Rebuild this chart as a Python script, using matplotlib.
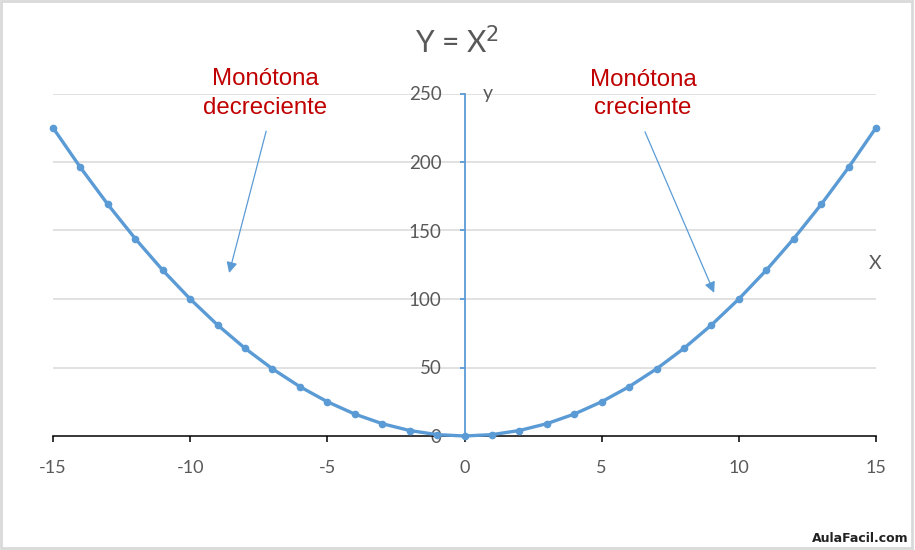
import matplotlib
matplotlib.use("Agg")
import matplotlib.pyplot as plt
from matplotlib.patches import Rectangle

x_vals = [-15, -14, -13, -12, -11, -10, -9, -8, -7, -6, -5, -4, -3, -2, -1, 0,
          1, 2, 3, 4, 5, 6, 7, 8, 9, 10, 11, 12, 13, 14, 15]
y_vals = [225, 196, 169, 144, 121, 100, 81, 64, 49, 36, 25, 16, 9, 4, 1, 0,
          1, 4, 9, 16, 25, 36, 49, 64, 81, 100, 121, 144, 169, 196, 225]
x_ticks = [-15, -10, -5, 0, 5, 10, 15]
y_ticks = [0, 50, 100, 150, 200, 250]

BLUE = "#5b9bd5"
GRAY_TXT = "#595959"
RED = "#c00000"

fig = plt.figure(figsize=(9.15, 5.5), dpi=100)
W, H = 915, 550
ax = fig.add_axes([53 / W, (H - 436) / H, (876 - 53) / W, (436 - 93.5) / H])

ax.set_xlim(-15, 15)
ax.set_ylim(0, 250)

# gridlines
for yt in y_ticks[1:]:
    ax.axhline(yt, color="#d9d9d9", lw=1.1, zorder=0)

# spines
for s in ["top", "right"]:
    ax.spines[s].set_visible(False)
ax.spines["left"].set_position(("data", 0))
ax.spines["left"].set_color(BLUE)
ax.spines["left"].set_linewidth(1.3)
ax.spines["bottom"].set_color("black")
ax.spines["bottom"].set_linewidth(1.1)

ax.set_xticks(x_ticks)
ax.set_xticklabels([str(v) for v in x_ticks])
ax.set_yticks(y_ticks)
ax.set_yticklabels([str(v) for v in y_ticks])
ax.tick_params(axis="x", direction="out", length=4.5, width=1.1, color="black",
               pad=13, labelsize=13, labelcolor=GRAY_TXT)
ax.tick_params(axis="y", direction="out", length=3.5, width=1.3, color=BLUE,
               pad=13, labelsize=13.5, labelcolor=GRAY_TXT)
for lbl in ax.get_xticklabels() + ax.get_yticklabels():
    lbl.set_fontfamily("Lato")

ax.plot(x_vals, y_vals, color=BLUE, lw=2.4, marker="o", markersize=4.5,
        clip_on=False, zorder=3)

# title and axis names
fig.text(457 / W, 1 - 42 / H, r"Y = X$^2$", ha="center", va="center",
         fontsize=21.5, color=GRAY_TXT, family="Lato")
fig.text(488 / W, 1 - 94 / H, "y", ha="center", va="center",
         fontsize=14, color=GRAY_TXT, family="Lato")
fig.text(875 / W, 1 - 263 / H, "X", ha="center", va="center",
         fontsize=14, color=GRAY_TXT, family="Lato")

# annotations
ax.text(-7.27, 250.0, "Monótona\ndecreciente", ha="center", va="center",
        fontsize=17.3, color=RED, family="Liberation Sans", linespacing=1.38)
ax.text(6.51, 249.5, "Monótona\ncreciente", ha="center", va="center",
        fontsize=17.3, color=RED, family="Liberation Sans", linespacing=1.38)
ax.annotate("", xy=(-8.58, 119), xytext=(-7.23, 222.5),
            arrowprops=dict(arrowstyle="-|>", color=BLUE, lw=0.9,
                            mutation_scale=16, shrinkA=0, shrinkB=0))
ax.annotate("", xy=(9.10, 104.5), xytext=(6.58, 222.0),
            arrowprops=dict(arrowstyle="-|>", color=BLUE, lw=0.9,
                            mutation_scale=16, shrinkA=0, shrinkB=0))

# watermark
fig.text(909 / W, 1 - 538 / H, "AulaFacil.com", ha="right", va="center",
         fontsize=9, fontweight="bold", color="#222222", family="DejaVu Sans")

# outer border
fig.patches.append(Rectangle((1 / W, 2 / H), 911 / W, 547 / H,
                             transform=fig.transFigure, fill=False,
                             edgecolor="#d9d9d9", lw=2))

fig.savefig("out.png", dpi=100)
